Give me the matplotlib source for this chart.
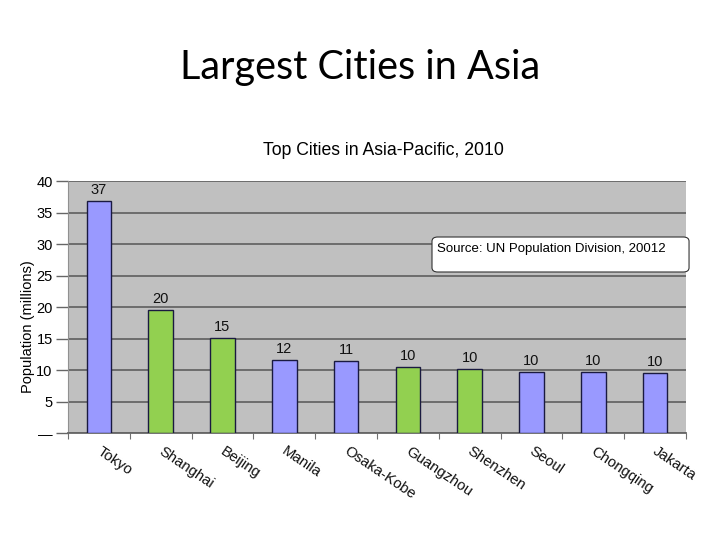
import matplotlib
matplotlib.use("Agg")
import matplotlib.pyplot as plt
from matplotlib.patches import FancyBboxPatch

cities = ["Tokyo", "Shanghai", "Beijing", "Manila", "Osaka-Kobe",
          "Guangzhou", "Shenzhen", "Seoul", "Chongqing", "Jakarta"]
population = [36.9, 19.6, 15.1, 11.6, 11.4, 10.5, 10.2, 9.7, 9.7, 9.5]
value_labels = ["37", "20", "15", "12", "11", "10", "10", "10", "10", "10"]
is_china = [False, True, True, False, False, True, True, False, False, False]
y_ticks = [0, 5, 10, 15, 20, 25, 30, 35, 40]
y_tick_labels = ["—", "5", "10", "15", "20", "25", "30", "35", "40"]

blue = "#9999FF"
green = "#92D050"

fig = plt.figure(figsize=(7.2, 5.4), dpi=100)
fig.patch.set_facecolor("white")
fig.text(0.5, 0.875, "Largest Cities in Asia", ha="center", va="center",
         fontsize=28.5, family="Lato", color="black")

ax = fig.add_axes([0.0944, 0.1981, 0.8584, 0.4667])
ax.set_facecolor("#C0C0C0")
x = list(range(len(cities)))
colors = [green if c else blue for c in is_china]
bars = ax.bar(x, population, width=0.4, color=colors, edgecolor="#1a1a40",
              linewidth=1.0, zorder=3)
for xi, v, lab in zip(x, population, value_labels):
    ax.text(xi, v + 0.6, lab, ha="center", va="bottom", fontsize=10.5,
            family="Liberation Sans", color="#111111")

ax.set_xlim(-0.5, len(cities) - 0.5)
ax.set_ylim(0, 40)
ax.set_yticks(y_ticks)
ax.set_yticklabels(y_tick_labels, family="Liberation Sans", fontsize=10.5)
ax.yaxis.grid(True, color="#666666", linewidth=1.3, zorder=1)
ax.set_axisbelow(True)
ax.tick_params(axis="y", length=9, width=1.0, color="#666666", pad=2)

ax.set_xticks([i - 0.5 for i in range(len(cities) + 1)], minor=False)
ax.set_xticklabels([])
ax.tick_params(axis="x", length=4, width=0.8, color="#707070")
for xi, name in zip(x, cities):
    ax.text(xi + 0.05, -1.8, name, rotation=-34, ha="left", va="top",
            rotation_mode="anchor", fontsize=10.7, family="Liberation Sans",
            color="#111111")

for s in ["top", "right"]:
    ax.spines[s].set_visible(False)
ax.spines["left"].set_color("#909090")
ax.spines["bottom"].set_color("#666666")
ax.spines["bottom"].set_linewidth(1.3)

fig.text(0.039, 1 - 327 / 540, "Population (millions)", rotation=90,
         ha="center", va="center", family="Liberation Sans", fontsize=10.5)

fig.text(0.532, 0.722, "Top Cities in Asia-Pacific, 2010", ha="center",
         va="center", fontsize=12.7, family="Liberation Sans")

box = FancyBboxPatch((0.600, 0.4963), 0.357, 0.0648,
                     boxstyle="round,pad=0,rounding_size=0.008",
                     transform=fig.transFigure, facecolor="white",
                     edgecolor="#333333", linewidth=0.8, zorder=5)
fig.patches.append(box)
fig.text(0.607, 1 - 249 / 540, "Source: UN Population Division, 20012",
         ha="left", va="center", fontsize=9.5, family="Liberation Sans",
         zorder=6)

fig.savefig("out.png", dpi=100)
